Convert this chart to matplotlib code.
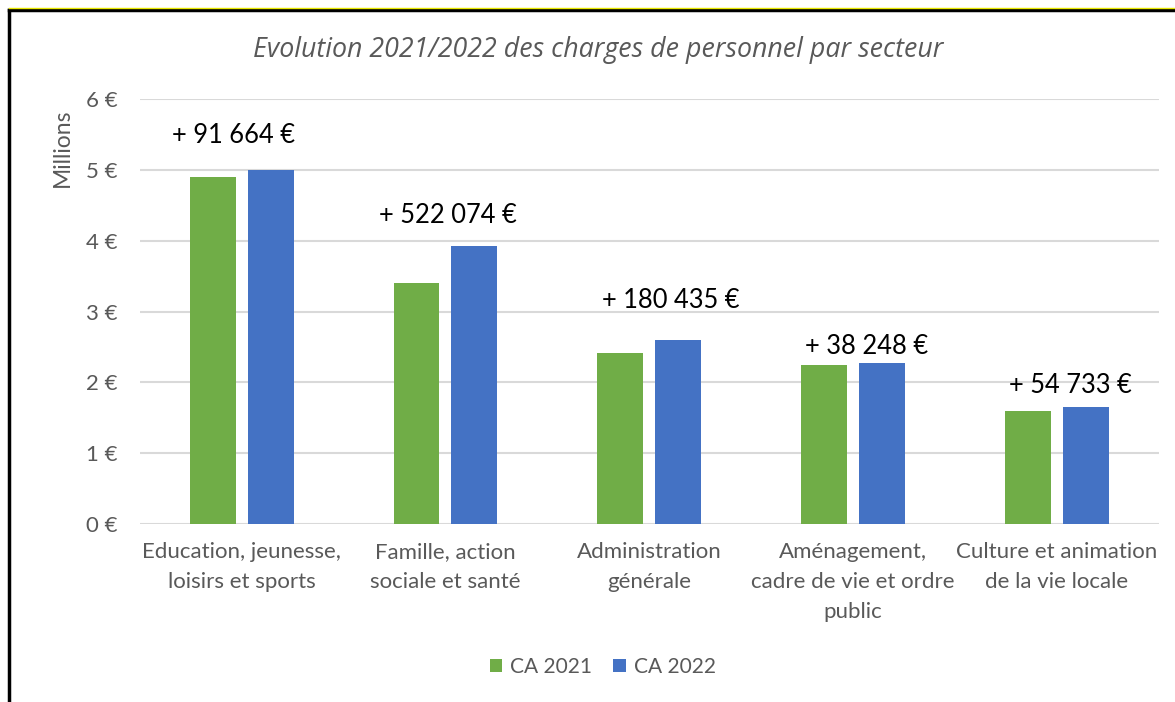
import numpy as np
import matplotlib.pyplot as plt
from matplotlib.lines import Line2D

# Data (millions of euros)
sectors = ['Education, jeunesse,\nloisirs et sports',
           'Famille, action\nsociale et santé',
           'Administration\ngénérale',
           'Aménagement,\ncadre de vie et ordre\npublic',
           'Culture et animation\nde la vie locale']
ca_2021 = [4.90, 3.40, 2.42, 2.24, 1.60]
ca_2022 = [4.99, 3.92, 2.60, 2.28, 1.655]
diff_labels = ['+ 91 664 €', '+ 522 074 €', '+ 180 435 €', '+ 38 248 €', '+ 54 733 €']
# hand-placed label positions (offset from category centre, value)
label_dx = [-0.04, 0.012, 0.105, 0.067, 0.069]
label_y = [5.48, 4.36, 3.16, 2.50, 1.96]
yticks = [0, 1, 2, 3, 4, 5, 6]

plt.rcParams['font.family'] = ['Lato', 'DejaVu Sans']

fig = plt.figure(figsize=(11.75, 7.02), dpi=100)
ax = fig.add_axes([0.119, 0.2532, 0.867, 0.606])

x = np.arange(len(sectors))
w = 0.225
ax.bar(x - 0.142, ca_2021, w, color='#70AD47', label='CA 2021', zorder=3)
ax.bar(x + 0.142, ca_2022, w, color='#4472C4', label='CA 2022', zorder=3)

for i, txt in enumerate(diff_labels):
    ax.text(x[i] + label_dx[i], label_y[i], txt, ha='center', va='center',
            fontsize=18.4, color='black')

ax.set_xlim(-0.5, len(sectors) - 0.5)
ax.set_ylim(0, 6)
ax.set_yticks(yticks)
ax.set_yticklabels([f'{v} €' for v in yticks])
ax.set_xticks(x)
ax.set_xticklabels(sectors, linespacing=1.6)
ax.tick_params(axis='both', length=0, labelsize=16, labelcolor='#595959')
ax.tick_params(axis='y', pad=16)
ax.tick_params(axis='x', pad=13)
ax.grid(axis='y', color='#D9D9D9', linewidth=1.5, zorder=0)
for s in ax.spines.values():
    s.set_visible(False)

fig.text(0.053, 0.789, 'Millions', rotation=90, ha='center', va='center',
         fontsize=16.5, color='#595959')
fig.text(0.509, 0.929, 'Evolution 2021/2022 des charges de personnel par secteur',
         ha='center', va='center', fontsize=19.3, style='italic', color='#595959',
         family=['Open Sans', 'DejaVu Sans'])

fig.legend(loc='center', bbox_to_anchor=(0.513, 0.05), ncol=2, frameon=False,
           fontsize=15, labelcolor='#595959', handlelength=0.6, handleheight=0.6,
           handletextpad=0.4, columnspacing=1.0)

# frame edges visible in the reference (left and top)
fig.add_artist(Line2D([0.008, 0.008], [0, 0.986], transform=fig.transFigure,
                      color='black', linewidth=2.5))
fig.add_artist(Line2D([0.008, 1], [0.986, 0.986], transform=fig.transFigure,
                      color='black', linewidth=2.5))
fig.add_artist(Line2D([0.008, 1], [0.989, 0.989], transform=fig.transFigure,
                      color='#E8E800', linewidth=1))

fig.savefig('out.png', dpi=100)
